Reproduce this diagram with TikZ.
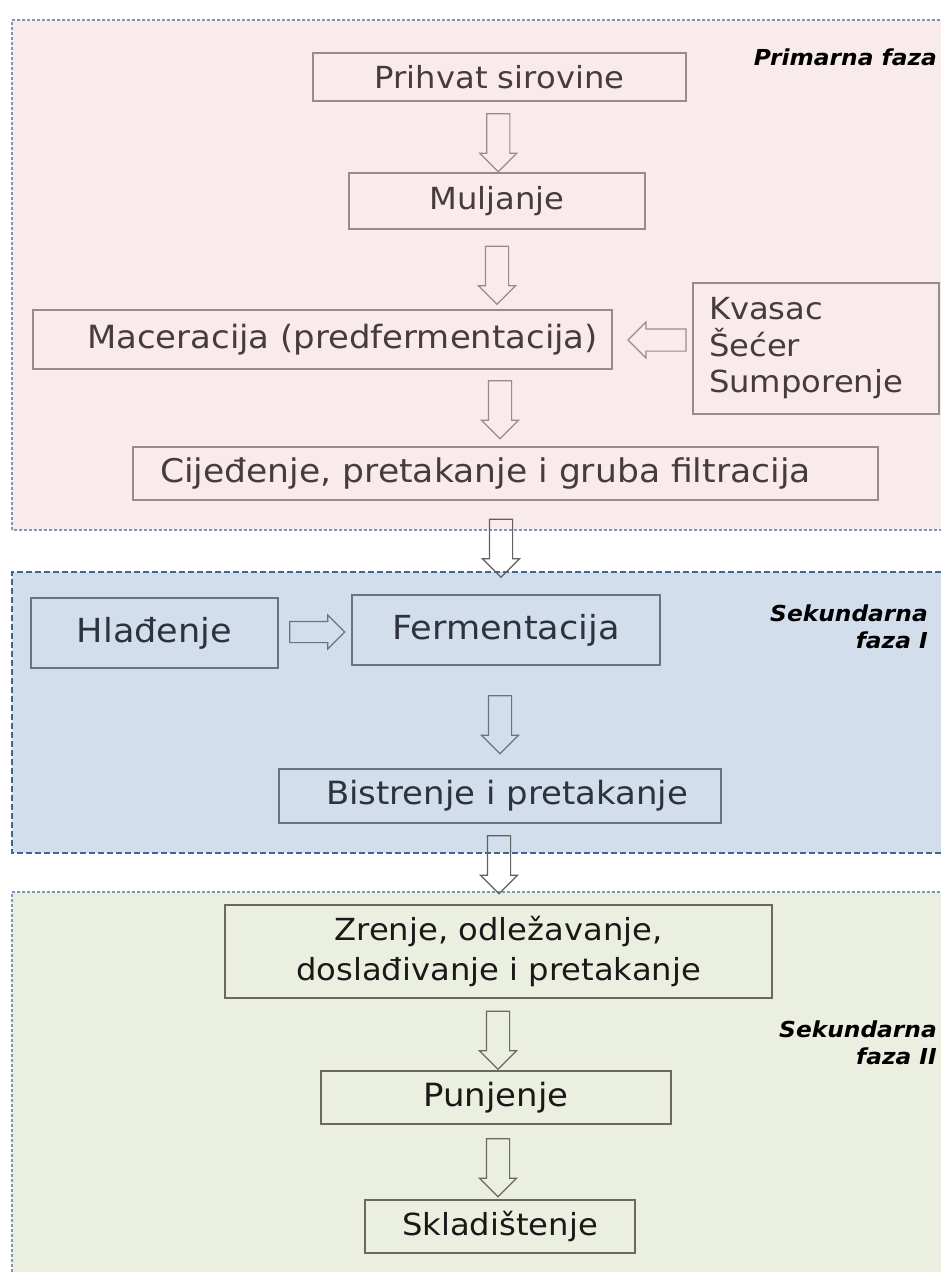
\documentclass[tikz,border=0pt]{standalone}
\usepackage{fontspec}
\setmainfont{DejaVu Sans}[FakeStretch=1.06]
\usetikzlibrary{shapes.arrows,calc}
\definecolor{pinkbg}{RGB}{249,235,235}
\definecolor{bluebg}{RGB}{211,222,237}
\definecolor{greenbg}{RGB}{235,239,224}
\definecolor{dotblue}{RGB}{125,150,185}
\definecolor{dashblue}{RGB}{70,100,145}
\definecolor{pinkline}{RGB}{155,138,138}
\definecolor{blueline}{RGB}{105,115,130}
\definecolor{greenline}{RGB}{105,105,95}
\definecolor{pinktext}{RGB}{70,60,60}
\definecolor{bluetext}{RGB}{45,50,60}
\definecolor{greentext}{RGB}{25,25,25}
\tikzset{
  box/.style={draw, rectangle, line width=1.5pt, inner sep=0pt},
  pinkbox/.style={box, draw=pinkline, text=pinktext, font=\fontsize{30.4}{36}\selectfont},
  bluebox/.style={box, draw=blueline, text=bluetext},
  greenbox/.style={box, draw=greenline, text=greentext},
  barrow/.style={single arrow, draw, line width=1.2pt, inner xsep=0pt, inner ysep=11pt,
    minimum height=58pt, single arrow head extend=7pt},
  downarrow/.style={barrow, rotate=-90},
  phase/.style={align=right, font=\bfseries\itshape\fontsize{22}{27}\selectfont, text=black, inner sep=0pt},
}
\begin{document}
\begin{tikzpicture}[x=1pt,y=-1pt]
\useasboundingbox (0,0) rectangle (941,1272);
% panels
\fill[pinkbg] (12,20) rectangle (950,530);
\draw[dotblue, line width=1.5pt, dash pattern=on 3pt off 2pt] (950,20) -- (12,20) -- (12,530) -- (950,530);
\fill[bluebg] (12,572) rectangle (950,853);
\draw[dashblue, line width=1.5pt, dash pattern=on 6pt off 3pt] (950,572) -- (12,572) -- (12,853) -- (950,853);
\fill[greenbg] (12,892) rectangle (950,1280);
\draw[dotblue, line width=1.5pt, dash pattern=on 3pt off 2pt] (950,892) -- (12,892) -- (12,1280);

% phase labels
\node[phase, anchor=east] (l1) at (937,57) {Primarna faza};
\node[phase, anchor=east] (l2) at (928,627) {Sekundarna\\faza I};
\node[phase, anchor=east] (l3) at (937,1043) {Sekundarna\\faza II};

% primary phase
\node[pinkbox, minimum width=373pt, minimum height=48pt] (prih) at (499.5,77) {Prihvat sirovine};
\node[pinkbox, minimum width=296pt, minimum height=56pt] (mulj) at (497,201) {Muljanje};
\node[pinkbox, minimum width=579pt, minimum height=59pt, font=\fontsize{32}{36}\selectfont] (mac) at (322.5,339.5) {\hspace*{40pt}Maceracija (predfermentacija)};
\node[pinkbox, minimum width=246pt, minimum height=131pt, text width=214pt, align=left,
  font=\fontsize{30.4}{36.5}\selectfont] (kvas) at (816,348.5) {Kvasac\\Šećer\\Sumporenje};
\node[pinkbox, minimum width=745pt, minimum height=53pt, font=\fontsize{32.6}{36}\selectfont] (cij) at (505.5,473.5) {Cijeđenje, pretakanje i gruba filtracija\hspace*{40pt}};

\node[downarrow, draw=pinkline] (a1) at ($(prih.south)!0.5!(mulj.north)$) {};
\node[downarrow, draw=pinkline] (a2) at ($(mulj.south)!0.5!(mac.north -| mulj.south)$) {};
\node[barrow, rotate=180, draw=pinkline, minimum height=58pt, inner ysep=10.5pt] (a3) at ($(kvas.west |- 0,340)!0.5!(mac.east |- 0,340)+(10,0)$) {};
\node[downarrow, draw=pinkline] (a4) at ($(mac.south -| mulj.south)!0.5!(cij.north -| mulj.south)+(3,-4)$) {};

% secondary phase I
\node[bluebox, minimum width=247pt, minimum height=70pt, font=\fontsize{33.1}{36}\selectfont] (hlad) at (154.5,633) {Hlađenje};
\node[bluebox, minimum width=308pt, minimum height=70pt, font=\fontsize{33.1}{36}\selectfont] (ferm) at (506,630) {Fermentacija};
\node[bluebox, minimum width=442pt, minimum height=54pt, font=\fontsize{32}{36}\selectfont] (bist) at (500,796) {\hspace*{14pt}Bistrenje i pretakanje};

\node[downarrow, draw=gray!75!black] (a5) at ($(cij.south -| 501,0)!0.5!(ferm.north -| 501,0)+(0,-5)$) {};
\node[barrow, draw=blueline, minimum height=55pt, inner ysep=10pt, single arrow head extend=6.5pt] (a6) at ($(hlad.east |- 0,632)!0.5!(ferm.west |- 0,632)+(-3,0)$) {};
\node[downarrow, draw=blueline] (a7) at ($(ferm.south -| 500,0)!0.5!(bist.north -| 500,0)+(0,2)$) {};

% secondary phase II
\node[greenbox, minimum width=547pt, minimum height=93pt, align=center, font=\fontsize{30.4}{40}\selectfont] (zren) at (498.5,951.5) {Zrenje, odležavanje,\\doslađivanje i pretakanje};
\node[greenbox, minimum width=350pt, minimum height=53pt, font=\fontsize{32}{36}\selectfont] (punj) at (496,1097.5) {Punjenje};
\node[greenbox, minimum width=270pt, minimum height=53pt, font=\fontsize{30.4}{36}\selectfont] (skla) at (500,1226.5) {Skladištenje};

\node[downarrow, draw=gray!75!black] (a8) at ($(bist.south -| 499,0)!0.5!(zren.north -| 499,0)+(0,-5)$) {};
\node[downarrow, draw=greenline] (a9) at ($(zren.south -| 498,0)!0.5!(punj.north -| 498,0)$) {};
\node[downarrow, draw=greenline] (a10) at ($(punj.south -| 498,0)!0.5!(skla.north -| 498,0)$) {};
\end{tikzpicture}
\end{document}
